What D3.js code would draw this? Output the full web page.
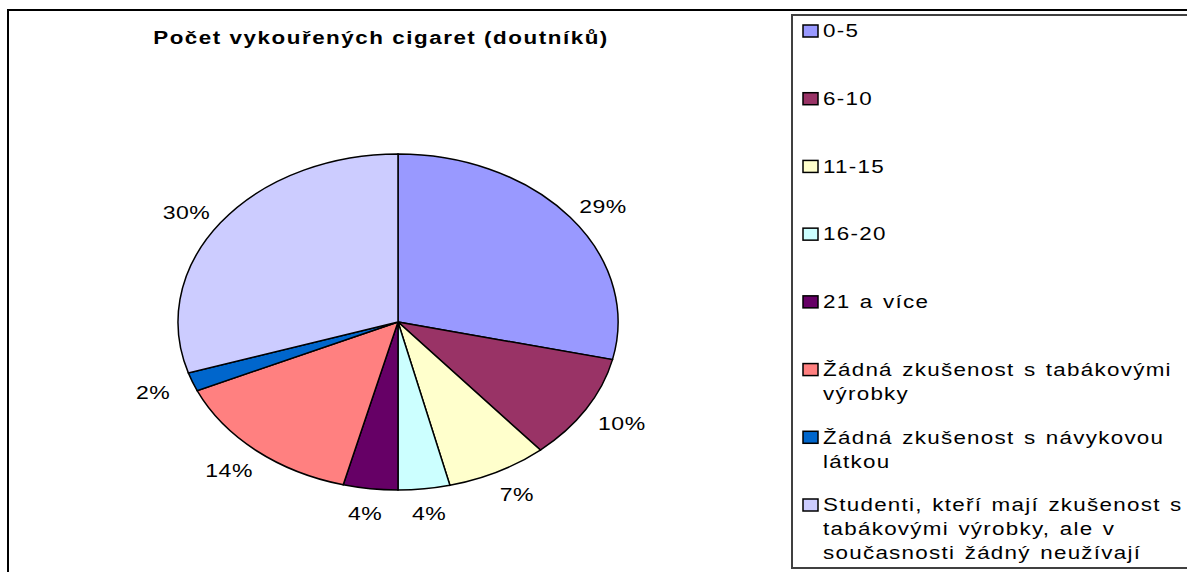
<!DOCTYPE html>
<html lang="cs">
<head>
<meta charset="UTF-8">
<title>Počet vykouřených cigaret (doutníků)</title>
<script src="https://cdn.jsdelivr.net/npm/d3@7"></script>
<style>
  body { margin: 0; background: #fff; }
  text { font-family: "Liberation Sans", Arial, sans-serif; fill: #000; }
</style>
</head>
<body>
<svg id="chart" width="1187" height="572"></svg>
<script>
  const title = "Počet vykouřených cigaret (doutníků)";
  const categories = [
    "0-5",
    "6-10",
    "11-15",
    "16-20",
    "21 a více",
    "Žádná zkušenost s tabákovými výrobky",
    "Žádná zkušenost s návykovou látkou",
    "Studenti, kteří mají zkušenost s tabákovými výrobky, ale v současnosti žádný neužívají"
  ];
  // shares (percent)
  const shares = [28.6, 10.2, 7.4, 3.8, 4.0, 14.3, 1.8, 29.9];
  const colors = ["#9999FF", "#993366", "#FFFFCC", "#CCFFFF", "#660066", "#FF8080", "#0066CC", "#CCCCFF"];

  const svg = d3.select("#chart");
  const stretch = 1.28; // picture is wider than tall, text too

  // outer chart frame and legend box
  svg.append("rect")
    .attr("x", 8).attr("y", 10)
    .attr("width", 1300).attr("height", 700)
    .attr("fill", "none").attr("stroke", "#000").attr("stroke-width", 2);

  svg.append("rect")
    .attr("x", 792).attr("y", 15)
    .attr("width", 500).attr("height", 553)
    .attr("fill", "#fff").attr("stroke", "#404040").attr("stroke-width", 2);

  // title
  svg.append("text")
    .attr("transform", `translate(381,44) scale(${stretch},1)`)
    .attr("text-anchor", "middle")
    .style("font-size", "17.5px")
    .style("font-weight", "bold")
    .style("letter-spacing", "1.2px")
    .text(title);

  // pie (ellipse: unit arc scaled)
  const cx = 398, cy = 322, rx = 220, ry = 168;
  const pie = d3.pie().sort(null).value(d => d)(shares);
  const arc = d3.arc().innerRadius(0).outerRadius(1);

  const g = svg.append("g").attr("transform", `translate(${cx},${cy}) scale(${rx},${ry})`);
  g.selectAll("path")
    .data(pie)
    .enter().append("path")
    .attr("d", arc)
    .attr("fill", (d, i) => colors[i])
    .attr("stroke", "#000")
    .attr("stroke-width", 1.5)
    .attr("vector-effect", "non-scaling-stroke");

  // percentage labels
  const total = d3.sum(shares);
  const lrx = 262, lry = 190;
  svg.selectAll(".pct")
    .data(pie)
    .enter().append("text")
    .attr("class", "pct")
    .attr("transform", d => {
      const a = (d.startAngle + d.endAngle) / 2;
      return `translate(${cx + lrx * Math.sin(a)},${cy + 3 - lry * Math.cos(a)}) scale(${stretch},1)`;
    })
    .attr("text-anchor", "middle")
    .attr("dy", "0.35em")
    .style("font-size", "18px")
    .style("letter-spacing", "0.4px")
    .text(d => Math.round(d.value / total * 100) + "%");

  // legend
  const legendY = d3.scalePoint().domain(d3.range(categories.length)).range([31, 505]);
  const maxW = 364, lineH = 24;

  const items = svg.selectAll(".item")
    .data(categories)
    .enter().append("g")
    .attr("class", "item")
    .attr("transform", (d, i) => `translate(803,${legendY(i)})`);

  items.append("rect")
    .attr("x", 0).attr("y", -6)
    .attr("width", 15).attr("height", 12)
    .attr("fill", (d, i) => colors[i])
    .attr("stroke", "#000").attr("stroke-width", 1.5);

  items.each(function(d) {
    const t = d3.select(this).append("text")
      .attr("transform", `translate(20,0) scale(${stretch},1)`)
      .style("font-size", "17.5px")
      .style("letter-spacing", "1px")
      .style("word-spacing", "1.5px");
    // wrap words to the legend width
    const words = d.split(" ");
    let line = [], n = 0;
    let tspan = t.append("tspan").attr("x", 0).attr("y", 0).attr("dy", "0.36em");
    words.forEach(w => {
      line.push(w);
      tspan.text(line.join(" "));
      if (tspan.node().getComputedTextLength() * stretch > maxW && line.length > 1) {
        line.pop();
        tspan.text(line.join(" "));
        line = [w];
        n++;
        tspan = t.append("tspan").attr("x", 0).attr("y", n * lineH).attr("dy", "0.36em").text(w);
      }
    });
  });
</script>
</body>
</html>
